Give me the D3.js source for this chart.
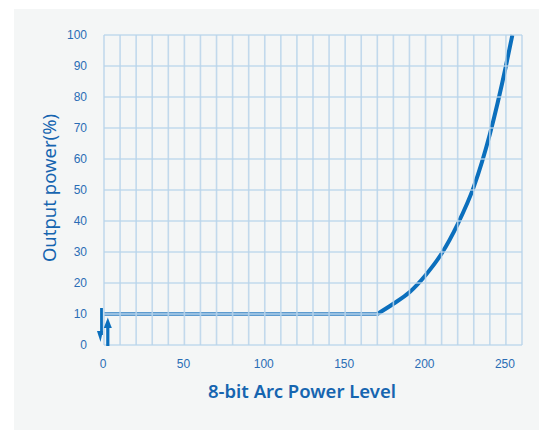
<!DOCTYPE html>
<html>
<head>
<meta charset="UTF-8">
<script src="https://d3js.org/d3.v7.min.js"></script>
<style>
    body { margin: 0; background: #fff; }
    .tick-label { font-family: "Liberation Sans", Arial, sans-serif; font-size: 12px; fill: #2a6db5; }
    .title { font-family: "Noto Sans", "Open Sans", sans-serif; fill: #1665b0; }
</style>
</head>
<body>
<svg id="chart"></svg>
<script>
    // data
    const xTicks = [0, 50, 100, 150, 200, 250];
    const yTicks = [0, 10, 20, 30, 40, 50, 60, 70, 80, 90, 100];
    const flatLevels = [0, 170];
    const flatValues = [10, 10];
    const curveLevels = [170, 180, 190, 200, 210, 220, 230, 240, 250, 254];
    const curveValues = [10, 13.3, 17, 22.5, 29.5, 39, 51, 68, 90, 100];

    const width = 539, height = 430;
    const margin = { top: 35, right: 17, bottom: 85, left: 104 };

    const svg = d3.select("#chart").attr("width", width).attr("height", height);

    // panel
    svg.append("rect").attr("x", 14).attr("y", 9)
        .attr("width", width - 14).attr("height", height - 9)
        .attr("fill", "#f4f6f6");

    const x = d3.scaleLinear().domain([0, 260]).range([margin.left, width - margin.right]);
    const y = d3.scaleLinear().domain([0, 100]).range([height - margin.bottom, margin.top]);

    // flat part at 10% (double line look)
    const flat = flatLevels.map((d, i) => [d, flatValues[i]]);
    const line = d3.line().x(d => x(d[0])).y(d => y(d[1]));
    svg.append("path").datum(flat).attr("d", line)
        .attr("fill", "none").attr("stroke", "#2b7cc2").attr("stroke-width", 3.6);
    svg.append("path").datum(flat).attr("d", line)
        .attr("fill", "none").attr("stroke", "#9cc4e6").attr("stroke-width", 1.1);

    // rising curve
    const curve = curveLevels.map((d, i) => [d, curveValues[i]]);
    svg.append("path").datum(curve)
        .attr("d", d3.line().x(d => x(d[0])).y(d => y(d[1])).curve(d3.curveMonotoneX))
        .attr("fill", "none").attr("stroke", "#0b6fbd").attr("stroke-width", 4)
        .attr("stroke-linecap", "butt");

    // grid (drawn over the lines, light)
    const grid = svg.append("g").attr("stroke", "#b9d3ea").attr("stroke-width", 1.6).attr("stroke-opacity", 0.85);
    grid.selectAll(".v").data(d3.range(0, 261, 10)).enter().append("line")
        .attr("x1", d => x(d)).attr("x2", d => x(d))
        .attr("y1", y(0)).attr("y2", y(100));
    grid.selectAll(".h").data(yTicks).enter().append("line")
        .attr("x1", x(0)).attr("x2", x(260))
        .attr("y1", d => y(d)).attr("y2", d => y(d));

    // arrows at level 0
    const arrowColor = "#0b6fbd";
    const downX = x(0) - 2.5, upX = x(0) + 3.8;
    svg.append("line").attr("x1", downX).attr("x2", downX)
        .attr("y1", y(10) - 6).attr("y2", y(0) - 10)
        .attr("stroke", arrowColor).attr("stroke-width", 2.8);
    svg.append("path")
        .attr("d", `M${downX - 4.5},${y(0) - 14} L${downX + 1.4},${y(0) - 14} L${downX - 1},${y(0) - 3} Z`)
        .attr("fill", arrowColor);
    svg.append("line").attr("x1", upX).attr("x2", upX)
        .attr("y1", y(0) + 1).attr("y2", y(10) + 10)
        .attr("stroke", arrowColor).attr("stroke-width", 3.2);
    svg.append("path")
        .attr("d", `M${upX - 4},${y(10) + 14} L${upX + 4},${y(10) + 14} L${upX},${y(10) + 3.5} Z`)
        .attr("fill", arrowColor);

    // tick labels
    svg.selectAll(".ylab").data(yTicks).enter().append("text")
        .attr("class", "tick-label")
        .attr("x", x(0) - 17).attr("y", d => y(d)).attr("dy", "0.35em")
        .attr("text-anchor", "end").text(d => d);
    svg.selectAll(".xlab").data(xTicks).enter().append("text")
        .attr("class", "tick-label")
        .attr("x", d => x(d) - 1).attr("y", y(0) + 19).attr("dy", "0.35em")
        .attr("text-anchor", "middle").text(d => d);

    // titles
    svg.append("text").attr("class", "title")
        .attr("x", 302).attr("y", 398)
        .attr("text-anchor", "middle").attr("font-size", 18.5).attr("font-weight", 600)
        .text("8-bit Arc Power Level");
    svg.append("text").attr("class", "title")
        .attr("transform", `translate(56,${188}) rotate(-90)`)
        .attr("text-anchor", "middle").attr("font-size", 18.5)
        .text("Output power(%)");
</script>
</body>
</html>
